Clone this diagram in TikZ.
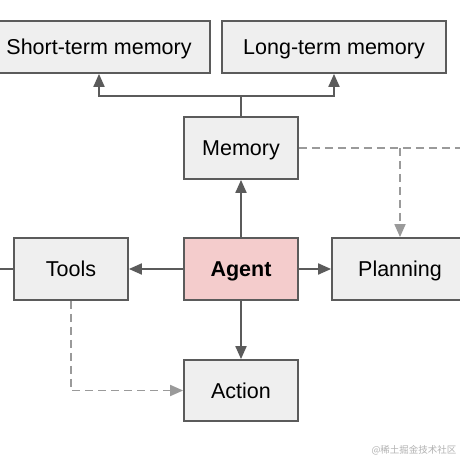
\documentclass[tikz,border=0pt]{standalone}
\usepackage{fontspec}
\setmainfont{Liberation Sans}
\newfontfamily\cjkfont{Noto Sans CJK SC}
\usepackage{tikz}
\usetikzlibrary{positioning,calc,arrows.meta}
\definecolor{boxgray}{HTML}{EFEFEF}
\definecolor{linegray}{HTML}{5B5B5B}
\definecolor{dashgray}{HTML}{9A9A9A}
\definecolor{agentpink}{HTML}{F4CCCC}
\tikzset{
box/.style={draw=linegray, line width=1.8pt, fill=boxgray, inner sep=0pt,
  font=\fontsize{21.5}{24}\selectfont, text=black, text height=15.4pt, text depth=0pt},
arr/.style={draw=linegray, line width=1.9pt, -{Triangle[length=13pt,width=11pt]}},
dasharr/.style={draw=dashgray, line width=1.8pt, dash pattern=on 8pt off 5pt,
  -{Triangle[length=13pt,width=11pt]}},
plainline/.style={draw=linegray, line width=1.9pt}}

\begin{document}
\begin{tikzpicture}[x=1pt,y=1pt]
        \clip (0,0) rectangle (460,460);
        \fill[white] (0,0) rectangle (460,460);
        % boxes
        \node[box, minimum width=222pt, minimum height=52pt] (stm) at (99,413) {Short-term memory};
        \node[box, minimum width=224pt, minimum height=52pt] (ltm) at (334,413) {Long-term memory};
        \node[box, minimum width=114pt, minimum height=62pt] (mem) at (241,312) {Memory};
        \node[box, minimum width=114pt, minimum height=62pt, fill=agentpink] (agent) at (241,191) {\bfseries Agent};
        \node[box, minimum width=114pt, minimum height=62pt] (tools) at (71,191) {Tools};
        \node[box, minimum width=136pt, minimum height=62pt] (plan) at (400,191) {Planning};
        \node[box, minimum width=114pt, minimum height=61pt] (action) at (241,69.5) {Action};
        \node[text=gray!60, font=\cjkfont\fontsize{9.5}{11}\selectfont] (mark) at (414,10) {@稀土掘金技术社区};
        % free ends
        \coordinate (split) at (241,364);
        \coordinate (memout) at (470,312);
        \coordinate (toolsout) at (-10,191);
        % solid arrows
        \draw[plainline] (mem.north) -- (split);
        \draw[arr] (split) -| (stm.south);
        \draw[arr] (split) -| (ltm.south);
        \draw[arr] (agent) -- (mem);
        \draw[arr] (agent) -- (tools);
        \draw[arr] (agent) -- (plan);
        \draw[arr] (agent) -- (action);
        \draw[plainline] (tools.west) -- (toolsout);
        % dashed arrows
        \draw[dasharr, -] (mem.east) -- (memout);
        \draw[dasharr] (plan.north |- mem.east) -- (plan.north);
        \draw[dasharr] (tools.south) |- (action.west);
    \end{tikzpicture}
\end{document}
